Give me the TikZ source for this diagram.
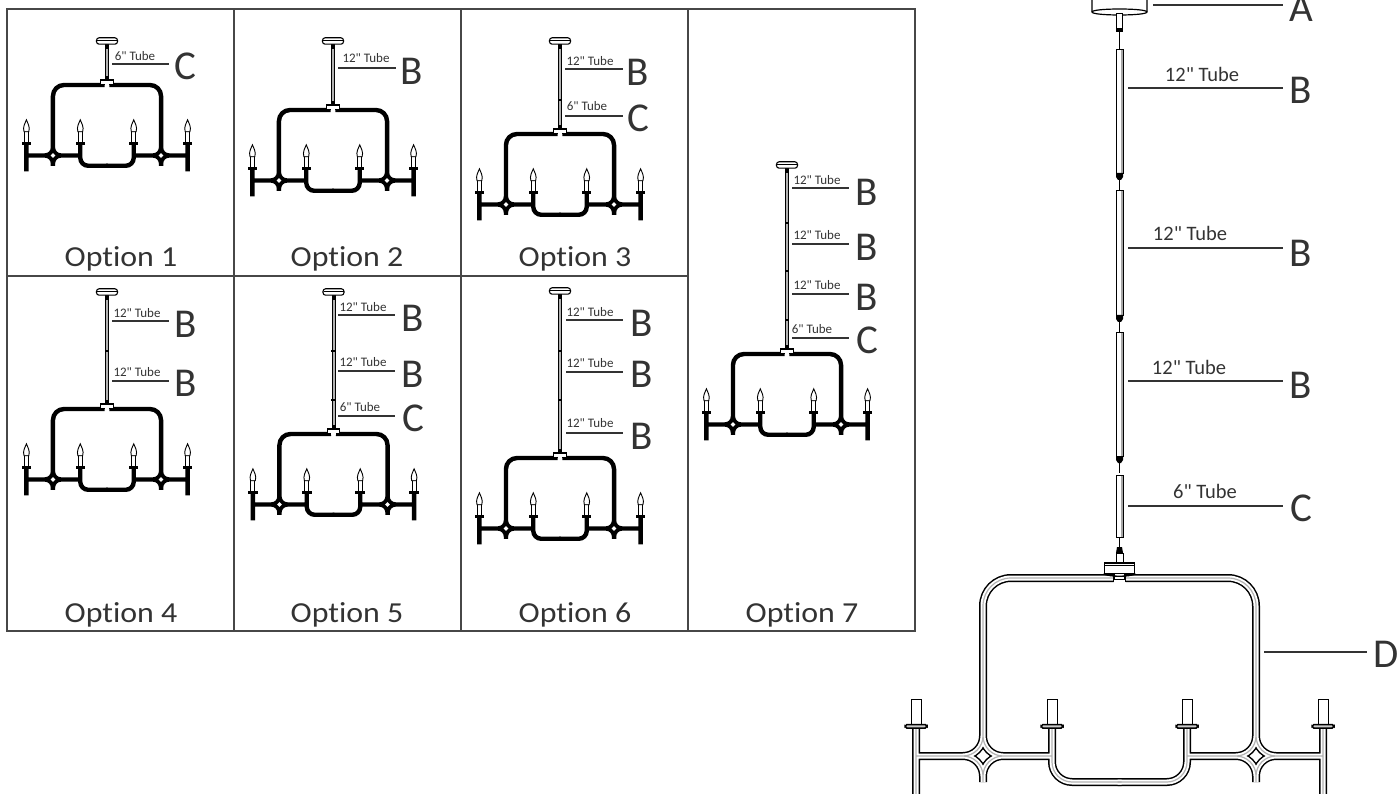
\documentclass[tikz,border=0pt]{standalone}
\usepackage{fontspec}
\newfontfamily\calib{Carlito}[Ligatures=NoCommon]
\newfontfamily\optf{Carlito}[Ligatures=NoCommon,FakeStretch=1.1]
\definecolor{ink}{HTML}{333333}
\tikzset{
  x=1pt,y=-1pt,
  grid/.style={draw=ink!90,line width=1.6pt},
  lead/.style={draw=ink,line width=1.4pt},
  opt/.style={font=\optf\fontsize{29}{29}\selectfont,text=ink,inner sep=0pt,anchor=base},
  letter/.style={font=\calib\fontsize{41}{41}\selectfont,text=ink,inner xsep=5pt,inner ysep=0pt},
  tsmall/.style={font=\calib\fontsize{13}{13}\selectfont,text=ink,inner sep=0pt},
  tbig/.style={font=\calib\fontsize{20.5}{20.5}\selectfont,text=ink,inner sep=0pt},
}
% half of the frame, in full-size coordinates from the centre of the top bar
\newcommand\halfp{
  (-6,0) -- (-108.5,0) .. controls (-124,0) and (-136.5,12.5) .. (-136.5,28) -- (-136.5,158)
    .. controls (-136.5,169) and (-127.5,178) .. (-116.5,178) -- (-67.5,178)
  (-136.5,158) .. controls (-136.5,169) and (-145.5,178) .. (-156.5,178) -- (-203.5,178)
  (-116.5,178) .. controls (-127.5,178) and (-136.5,187) .. (-136.5,198) -- (-136.5,204)
  (-156.5,178) .. controls (-145.5,178) and (-136.5,187) .. (-136.5,198)
  (-67.5,148) -- (-67.5,184) .. controls (-67.5,195) and (-58.5,204) .. (-47.5,204) -- (2,204)
  (-203.5,148) -- (-203.5,218)
}
\newcommand\strokeall[1]{\foreach \s in {1,-1}{\draw[#1,xscale=\s] \halfp;}}
% small chandelier: centre x, frame top y, plate y, joints, stem width
\newcommand\smallch[5]{%
  \draw[black,line width=#5pt] (#1,#3+3) -- (#1,#2-4);
  \draw[gray!60,line width=#5pt-2pt] (#1,#3+3) -- (#1,#2-4);
  \fill[black] (#1-1.6,#3+3) rectangle (#1+1.6,#3+8);
  \fill[black] (#1-1.6,#2-9) rectangle (#1+1.6,#2-6);
  \foreach \j in {#4}{\fill[black] (#1-2.4,\j-1) rectangle (#1+2.4,\j+1);}
  \draw[black,line width=1.1pt,fill=white,rounded corners=2.6pt] (#1-10.5,#3-3.2) rectangle (#1+10.5,#3+3.2);
  \draw[black,line width=.6pt] (#1-10,#3-1) -- (#1+10,#3-1);
  \begin{scope}[shift={(#1,#2)},scale=0.396]
    \strokeall{black,line width=4.4pt}
    \foreach \d in {-136.5,136.5}{
      \fill[white] (\d-6,178) -- (\d,172) -- (\d+6,178) -- (\d,184) -- cycle;
    }
    \foreach \c in {-203.5,-67.5,67.5,203.5}{
      \draw[black,line width=0.9pt,fill=white] (\c-5,145) rectangle (\c+5,118);
      \fill[black] (\c-12,145) rectangle (\c+12,152);
      \draw[black,line width=0.9pt,fill=white] (\c-6,118) .. controls (\c-10,106) and (\c-3,96) .. (\c,88) .. controls (\c+3,96) and (\c+10,106) .. (\c+6,118) -- cycle;
    }
    \draw[black,line width=1pt,fill=white] (-16,-13) rectangle (16,-2);
    \fill[black] (-16,-14) rectangle (16,-11);
    \fill[white] (-6,-2) rectangle (6,3);
  \end{scope}
}
\newcommand\leader[9]{%
  \coordinate (#1-a) at (#2,#4);
  \coordinate (#1-b) at (#3,#4);
  \draw[lead] (#1-a) -- (#1-b);
  \node[tsmall] (#1-t) at (#6,#7) {#5};
  \node[letter] (#1-l) at (#9) {#8};
}
\newcommand\bigleader[9]{%
  \coordinate (#1-a) at (#2,#4);
  \coordinate (#1-b) at (#3,#4);
  \draw[lead] (#1-a) -- (#1-b);
  \node[tbig] (#1-t) at (#6,#7) {#5};
  \node[letter] (#1-l) at (#9) {#8};
}
\newcommand\tubeseg[2]{%
  \draw[black,line width=0.9pt,fill=white] (1116,#1) rectangle (1123,#2);
  \fill[gray!70] (1120.5,#1) rectangle (1123,#2);
  \draw[black,line width=0.9pt] (1116,#1) rectangle (1123,#2);
}
\newcommand\lump[1]{%
  \fill[black] (1116,#1) -- (1123,#1) -- (1123,#1+4) -- (1121,#1+7) -- (1118,#1+7) -- (1116,#1+4) -- cycle;
  \draw[black,line width=1.3pt] (1119.5,#1+7) -- (1119.5,#1+17);
}
\begin{document}
\begin{tikzpicture}
\useasboundingbox (0,0) rectangle (1398,794);
% grid
\draw[grid] (7,9) rectangle (915,631);
\draw[grid] (234,9) -- (234,631);
\draw[grid] (461,9) -- (461,631);
\draw[grid] (688,9) -- (688,631);
\draw[grid] (7,276) -- (688,276);
\node[opt] (o1) at (121,267) {Option 1};
\node[opt] (o2) at (347,267) {Option 2};
\node[opt] (o3) at (575,267) {Option 3};
\node[opt] (o4) at (121,622) {Option 4};
\node[opt] (o5) at (347,622) {Option 5};
\node[opt] (o6) at (575,622) {Option 6};
\node[opt] (o7) at (802,622) {Option 7};
% small chandeliers
\smallch{107}{85}{41}{}{4.4}
\smallch{333}{110}{41}{}{4.4}
\smallch{560}{134}{41}{100}{4.4}
\smallch{107}{409}{292}{351}{4}
\smallch{333.5}{434}{292}{351,400}{4}
\smallch{560}{458}{291}{351,400}{3.6}
\smallch{787}{354}{165}{223,271,320}{4}
% small leaders
\leader{a1}{112}{169}{64}{6" Tube}{135}{56}{C}{185,66}
\leader{a2}{338}{396}{68}{12" Tube}{366}{58}{B}{412,71}
\leader{a3}{565}{623}{69}{12" Tube}{590}{61}{B}{638,72}
\leader{a4}{565}{623}{116}{6" Tube}{587}{106}{C}{638,118}
\leader{a5}{112}{169}{321}{12" Tube}{137}{313}{B}{186,324}
\leader{a6}{112}{169}{381}{12" Tube}{137}{372}{B}{186,383}
\leader{a7}{338}{395}{315}{12" Tube}{363}{307}{B}{413,318}
\leader{a8}{338}{395}{371}{12" Tube}{363}{362}{B}{413,374}
\leader{a9}{338}{395}{416}{6" Tube}{360}{407}{C}{413,418}
\leader{a10}{566}{623}{320}{12" Tube}{590}{312}{B}{642,323}
\leader{a11}{566}{623}{372}{12" Tube}{590}{363}{B}{642,374}
\leader{a12}{566}{623}{433}{12" Tube}{590}{423}{B}{642,436}
\leader{a13}{792}{849}{188}{12" Tube}{817}{180}{B}{867,192}
\leader{a14}{792}{849}{244}{12" Tube}{817}{235}{B}{867,247}
\leader{a15}{792}{849}{294}{12" Tube}{817}{285}{B}{867,297}
\leader{a16}{792}{849}{338}{6" Tube}{812}{329}{C}{867,340}
% big chandelier
\draw[black,line width=1.2pt,fill=white] (1092,-6) -- (1092,12) .. controls (1092,16) and (1147,16) .. (1147,12) -- (1147,-6);
\draw[black,line width=1.2pt] (1092,12) .. controls (1092,8) and (1147,8) .. (1147,12);
\draw[black,line width=1pt,fill=white] (1116,14) rectangle (1122,29);
\fill[black] (1115.5,28) rectangle (1122.5,32);
\draw[black,line width=1.3pt] (1119.5,32) -- (1119.5,49);
\tubeseg{49}{173}
\lump{173}
\tubeseg{190}{315}
\lump{315}
\tubeseg{332}{456}
\lump{456}
\tubeseg{475}{537}
\draw[black,line width=1.3pt] (1119.5,537) -- (1119.5,547);
\fill[black] (1117,547) -- (1122,547) -- (1123,553) -- (1116,553) -- cycle;
\draw[black,line width=.8pt,fill=white] (1116,553) rectangle (1123,563);
\begin{scope}[shift={(1119.5,578)}]
  \strokeall{black,line width=8pt}
  \strokeall{white,line width=5pt}
  \strokeall{gray!60,line width=1.2pt}
  \foreach \s in {-1,1}{
    \draw[black,line width=1.3pt] (\s*6,-4) -- (\s*6,4);
  }
  \foreach \c in {-203.5,-67.5,67.5,203.5}{
    \draw[black,line width=0.8pt,fill=white] (\c-5,146) -- (\c-5,121) -- (\c+5,121) -- (\c+5,146);
    \draw[black,line width=1.5pt,fill=gray!40,rounded corners=1.8pt] (\c-11,146.5) rectangle (\c+11,150);
  }
  \draw[black,line width=1.1pt,fill=white] (-15,-15) rectangle (15,-4);
  \draw[black,line width=1.1pt] (-15,-12.5) -- (15,-12.5);
  \draw[black,line width=1.1pt,fill=white] (-5,-4) -- (-5,1.5) -- (5,1.5) -- (5,-4);
  \draw[black,line width=1.3pt] (-16,-4) .. controls (-8,-1) and (8,-1) .. (16,-4);
\end{scope}
% big leaders
\coordinate (ba-a) at (1153,5);
\coordinate (ba-b) at (1283,5);
\draw[lead] (ba-a) -- (ba-b);
\node[letter] (ba-l) at (1301,8) {A};
\bigleader{b1}{1128}{1283}{88}{12" Tube}{1202}{74}{B}{1301,90}
\bigleader{b2}{1128}{1283}{248}{12" Tube}{1190}{233}{B}{1301,253}
\bigleader{b3}{1128}{1283}{381}{12" Tube}{1189}{367}{B}{1301,385}
\bigleader{b4}{1128}{1283}{506}{6" Tube}{1205}{491}{C}{1301,508}
\coordinate (bd-a) at (1264,652);
\coordinate (bd-b) at (1367,652);
\draw[lead] (bd-a) -- (bd-b);
\node[letter] (bd-l) at (1386,654) {D};
\end{tikzpicture}
\end{document}
